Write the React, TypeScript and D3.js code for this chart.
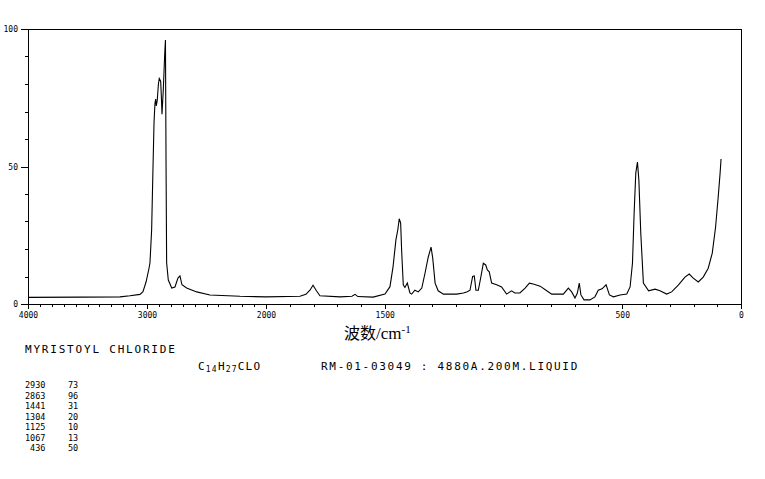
import { useEffect, useRef } from 'react';
import * as d3 from 'd3';

type Point = {
    wn: number;
    value: number;
};

// Raman spectrum trace (wavenumber cm-1, intensity)
const wavenumbers = [
    4000, 3563, 3227, 3143, 3059, 3034, 3008, 2983, 2975, 2961, 2952, 2941, 2933, 2927, 2922, 2914,
    2904, 2897, 2885, 2878, 2874, 2863, 2851, 2845, 2840, 2835, 2821, 2792, 2765, 2740, 2723, 2706,
    2667, 2582, 2471, 2219, 2000, 1857, 1832, 1815, 1802, 1789, 1773, 1688, 1638, 1625, 1613, 1549,
    1499, 1478, 1465, 1453, 1445, 1439, 1433, 1429, 1422, 1415, 1405, 1394, 1387, 1373, 1359, 1344,
    1331, 1317, 1305, 1298, 1288, 1275, 1253, 1197, 1169, 1155, 1141, 1130, 1123, 1116, 1106, 1095,
    1085, 1075, 1068, 1060, 1050, 1029, 1008, 987, 966, 952, 931, 909, 891, 875, 846, 818,
    797, 748, 727, 713, 699, 689, 681, 674, 661, 636, 615, 601, 585, 568, 554, 537,
    509, 481, 467, 457, 450, 443, 436, 430, 422, 411, 389, 362, 341, 313, 292, 264,
    236, 218, 201, 180, 159, 138, 121, 107, 96, 88, 84,
];

const intensities = [
    2.4, 2.5, 2.6, 3.0, 3.5, 4.5, 8, 13, 15, 27, 45, 66, 73, 74.5, 72, 74,
    80, 82, 81, 74, 69, 78, 91, 96, 51, 15, 8.7, 5.8, 6.2, 9.4, 10.2, 7,
    5.8, 4.4, 3.3, 2.8, 2.6, 2.8, 3.5, 5, 6.8, 5, 3, 2.6, 2.8, 3.5, 2.7, 2.5,
    3.6, 6.3, 13.6, 23.3, 27, 31, 29.4, 19.6, 7, 6, 7.6, 4, 3.6, 5, 4.4, 5.8,
    11, 17, 20.7, 16.7, 7.6, 4.8, 3.6, 3.6, 4, 4.4, 5, 10, 10.2, 5, 5, 10,
    14.8, 14.2, 12.4, 11.7, 7.6, 7, 6.2, 3.6, 4.8, 4, 4, 5.8, 7.6, 7.3, 6.5, 4.8,
    3.6, 3.6, 5.8, 4.4, 2.2, 4, 7.6, 3.3, 1.5, 1.5, 2.6, 5, 5.5, 7, 3.3, 2.6,
    3.3, 3.6, 6.2, 14.8, 33, 47.6, 51.6, 45, 25.8, 7.6, 4.8, 5.4, 4.8, 3.6, 4.4, 6.9,
    9.8, 10.9, 9.4, 8, 9.8, 13, 18.5, 28, 38.9, 47.6, 52.7,
];

const xTickLabels = [4000, 3000, 2000, 1500, 500, 0];
const yTickLabels = [0, 50, 100];

const peakWavenumbers = ['2930', '2863', '1441', '1304', '1125', '1067', ' 436'];
const peakIntensities = ['73', '96', '31', '20', '10', '13', '50'];

const compoundName = 'MYRISTOYL CHLORIDE';
const sampleInfo = 'RM-01-03049 : 4880A.200M.LIQUID';

const W = 765;
const H = 479;
const mono = '"DejaVu Sans Mono", monospace';

const Spectrum: React.FC = () => {
    const svgRef = useRef<SVGSVGElement | null>(null);

    useEffect(() => {
        if (!svgRef.current) return;
        const svg = d3.select(svgRef.current);
        svg.selectAll('*').remove();

        const margin = { top: 29, right: 24, bottom: 175, left: 28 };
        const left = margin.left;
        const right = W - margin.right;
        const top = margin.top;
        const bottom = H - margin.bottom;

        // 4000-2000 is drawn at half the scale of 2000-0
        const x = d3.scaleLinear().domain([4000, 2000, 0]).range([left, 266, right]);
        const y = d3.scaleLinear().domain([0, 100]).range([bottom, top]);

        const data: Point[] = wavenumbers.map((wn, i) => ({ wn, value: intensities[i] }));

        const g = svg.append('g').attr('shape-rendering', 'crispEdges');

        // frame
        g.append('rect')
            .attr('x', left + 0.5)
            .attr('y', top + 0.5)
            .attr('width', right - left)
            .attr('height', bottom - top)
            .attr('fill', 'none')
            .attr('stroke', '#000')
            .attr('stroke-width', 1);

        // x ticks every 100
        const xMinor = d3.range(0, 4001, 100);
        g.selectAll('line.xt')
            .data(xMinor)
            .join('line')
            .attr('x1', (d) => Math.round(x(d)) + 0.5)
            .attr('x2', (d) => Math.round(x(d)) + 0.5)
            .attr('y1', bottom + 0.5)
            .attr('y2', (d) => bottom + (xTickLabels.includes(d) ? 5 : 3))
            .attr('stroke', '#000');

        svg.selectAll('text.xl')
            .data(xTickLabels)
            .join('text')
            .attr('x', (d) => x(d) + 0.5)
            .attr('y', bottom + 14)
            .attr('text-anchor', 'middle')
            .attr('font-family', mono)
            .attr('font-size', 8)
            .text((d) => d);

        // y ticks every 10
        const yMinor = d3.range(0, 101, 10);
        g.selectAll('line.yt')
            .data(yMinor)
            .join('line')
            .attr('x1', left + 0.5)
            .attr('x2', (d) => left - (yTickLabels.includes(d) ? 7 : 3))
            .attr('y1', (d) => Math.round(y(d)) + 0.5)
            .attr('y2', (d) => Math.round(y(d)) + 0.5)
            .attr('stroke', '#000');

        svg.selectAll('text.yl')
            .data(yTickLabels)
            .join('text')
            .attr('x', left - 10)
            .attr('y', (d) => y(d) + 3)
            .attr('text-anchor', 'end')
            .attr('font-family', mono)
            .attr('font-size', 8)
            .text((d) => d);

        // spectrum
        const line = d3
            .line<Point>()
            .x((d) => x(d.wn))
            .y((d) => y(d.value));

        svg.append('path')
            .datum(data)
            .attr('fill', 'none')
            .attr('stroke', '#000')
            .attr('stroke-width', 1.1)
            .attr('d', line);

        // axis title
        const title = svg
            .append('text')
            .attr('x', 344)
            .attr('y', 339)
            .attr('font-size', 17)
            .attr('font-family', '"Liberation Serif", serif');
        title.append('tspan').attr('font-family', '"Noto Sans CJK SC"').attr('font-size', 16).text('波数');
        title.append('tspan').text('/cm');
        title.append('tspan').attr('font-size', 11).attr('dy', -6).text('-1');

        // sample text block
        svg.append('text')
            .attr('x', 25)
            .attr('y', 353)
            .attr('font-family', mono)
            .attr('font-size', 11)
            .attr('letter-spacing', 1.8)
            .text(compoundName);

        const formula = svg
            .append('text')
            .attr('x', 198)
            .attr('y', 370)
            .attr('font-family', mono)
            .attr('font-size', 11)
            .attr('letter-spacing', 1.2);
        const parts: [string, boolean][] = [
            ['C', false],
            ['14', true],
            ['H', false],
            ['27', true],
            ['CLO', false],
        ];
        parts.forEach(([t, sub]) => {
            formula
                .append('tspan')
                .attr('font-size', sub ? 8 : 11)
                .attr('baseline-shift', sub ? '-2' : '0')
                .text(t);
        });

        svg.append('text')
            .attr('x', 321)
            .attr('y', 370)
            .attr('font-family', mono)
            .attr('font-size', 11)
            .attr('letter-spacing', 1.7)
            .style('white-space', 'pre')
            .text(sampleInfo);

        // peak table
        const rowY = d3.scaleLinear().domain([0, peakWavenumbers.length - 1]).range([388, 451]);
        svg.selectAll('text.pw')
            .data(peakWavenumbers)
            .join('text')
            .attr('x', 25)
            .attr('y', (_, i) => rowY(i))
            .attr('font-family', mono)
            .attr('font-size', 8.5)
            .style('white-space', 'pre')
            .text((d) => d);

        svg.selectAll('text.pi')
            .data(peakIntensities)
            .join('text')
            .attr('x', 68)
            .attr('y', (_, i) => rowY(i))
            .attr('font-family', mono)
            .attr('font-size', 8.5)
            .text((d) => d);
    }, []);

    return (
        <svg
            ref={svgRef}
            width={W}
            height={H}
            style={{ position: 'absolute', left: 0, top: 0, background: '#fff' }}
        />
    );
};

export default function App() {
    return <Spectrum />;
}
